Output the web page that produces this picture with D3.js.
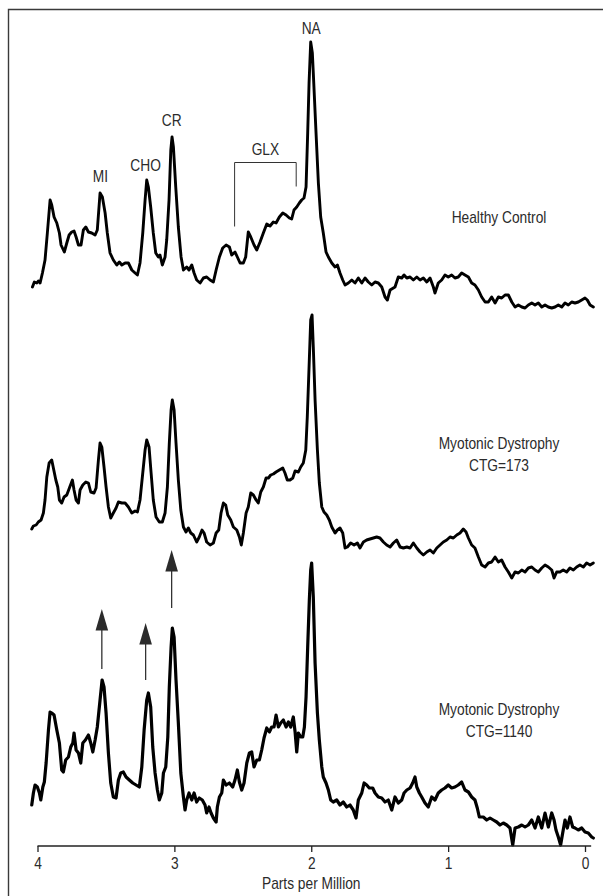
<!DOCTYPE html>
<html>
<head>
<meta charset="utf-8">
<script src="https://cdn.jsdelivr.net/npm/d3@7"></script>
<style>
  body { margin: 0; background: #fff; }
  svg { display: block; }
  text { font-family: "Liberation Sans", Arial, "Noto Sans", sans-serif; fill: #2b2b2b; }
</style>
</head>
<body>
<div id="chart"></div>
<script>
// chemical shift (ppm) and signal intensity (a.u.)
const healthyControl = [
  [4.037,33],[4.023,38],[4.005,37],[3.994,39],[3.981,37],[3.964,47],[3.945,60],[3.928,87],[3.908,120],[3.896,115],
  [3.879,103],[3.859,97],[3.840,87],[3.828,75],[3.804,68],[3.786,77],[3.769,85],[3.750,88],[3.733,89],[3.718,83],
  [3.701,75],[3.682,75],[3.665,90],[3.647,93],[3.628,88],[3.604,87],[3.579,85],[3.563,90],[3.543,127],[3.526,123],
  [3.506,107],[3.490,87],[3.470,67],[3.446,60],[3.421,55],[3.402,58],[3.384,55],[3.360,57],[3.336,57],[3.311,50],
  [3.287,47],[3.270,45],[3.251,57],[3.231,87],[3.214,120],[3.202,140],[3.190,133],[3.173,113],[3.154,87],[3.136,67],
  [3.117,63],[3.105,65],[3.088,55],[3.068,63],[3.056,80],[3.039,120],[3.026,170],[3.017,183],[3.007,173],[2.990,133],
  [2.971,93],[2.951,63],[2.934,50],[2.910,53],[2.893,50],[2.873,55],[2.856,47],[2.837,40],[2.812,37],[2.788,42],
  [2.764,43],[2.739,40],[2.715,38],[2.695,50],[2.671,63],[2.647,72],[2.622,75],[2.598,73],[2.581,65],[2.557,68],
  [2.540,63],[2.520,57],[2.496,57],[2.479,63],[2.460,88],[2.442,83],[2.418,75],[2.398,70],[2.374,78],[2.350,87],
  [2.325,96],[2.301,94],[2.277,98],[2.257,97],[2.233,103],[2.208,107],[2.184,105],[2.160,102],[2.143,101],[2.126,110],
  [2.106,113],[2.087,117],[2.070,120],[2.053,122],[2.038,133],[2.026,187],[2.016,237],[2.004,278],[1.992,267],[1.985,247],
  [1.965,187],[1.948,137],[1.931,103],[1.912,87],[1.892,68],[1.875,63],[1.850,57],[1.826,53],[1.809,55],[1.790,47],
  [1.770,40],[1.753,35],[1.729,37],[1.704,40],[1.680,37],[1.656,42],[1.631,37],[1.607,42],[1.583,38],[1.558,35],
  [1.534,38],[1.510,37],[1.485,33],[1.461,23],[1.444,20],[1.424,30],[1.388,33],[1.364,43],[1.339,42],[1.322,45],
  [1.302,42],[1.278,43],[1.254,40],[1.229,43],[1.205,40],[1.181,42],[1.156,38],[1.132,42],[1.108,33],[1.096,27],
  [1.072,37],[1.047,40],[1.023,45],[0.999,43],[0.974,45],[0.950,42],[0.926,43],[0.901,47],[0.877,45],[0.852,43],
  [0.828,37],[0.804,35],[0.779,30],[0.755,23],[0.730,18],[0.706,18],[0.682,23],[0.657,17],[0.633,23],[0.609,22],
  [0.584,25],[0.560,25],[0.535,18],[0.511,13],[0.487,15],[0.462,13],[0.438,12],[0.414,15],[0.389,17],[0.365,15],
  [0.341,17],[0.316,13],[0.292,15],[0.268,13],[0.243,12],[0.219,13],[0.195,15],[0.170,13],[0.146,17],[0.122,15],
  [0.097,18],[0.073,17],[0.049,18],[0.024,20],[0.000,22],[-0.017,20],[-0.037,15],[-0.061,13]
];

const dystrophy173 = [
  [4.042,61],[4.030,64],[4.010,65],[3.994,68],[3.974,70],[3.957,77],[3.945,90],[3.932,113],[3.915,127],[3.896,130],
  [3.884,122],[3.866,110],[3.852,103],[3.840,90],[3.823,87],[3.806,93],[3.786,95],[3.767,102],[3.745,110],[3.733,100],
  [3.718,90],[3.701,87],[3.689,100],[3.669,105],[3.647,108],[3.628,107],[3.611,98],[3.587,97],[3.572,102],[3.555,130],
  [3.543,147],[3.530,143],[3.514,123],[3.499,103],[3.482,83],[3.465,72],[3.446,77],[3.426,82],[3.409,88],[3.384,87],
  [3.360,87],[3.336,83],[3.311,77],[3.287,79],[3.270,78],[3.251,90],[3.231,117],[3.214,140],[3.202,150],[3.185,143],
  [3.170,117],[3.154,90],[3.134,73],[3.110,68],[3.088,68],[3.068,77],[3.051,103],[3.037,147],[3.024,180],[3.015,190],
  [3.002,180],[2.988,147],[2.971,110],[2.953,80],[2.934,63],[2.915,58],[2.898,62],[2.880,57],[2.861,55],[2.837,48],
  [2.818,53],[2.798,60],[2.783,57],[2.764,48],[2.739,45],[2.715,47],[2.695,57],[2.676,60],[2.659,77],[2.642,87],
  [2.625,85],[2.610,75],[2.588,70],[2.569,63],[2.544,60],[2.525,53],[2.511,45],[2.496,57],[2.476,77],[2.460,83],
  [2.442,97],[2.423,95],[2.403,90],[2.387,87],[2.369,98],[2.350,103],[2.330,112],[2.313,112],[2.296,115],[2.277,116],
  [2.257,118],[2.233,120],[2.208,122],[2.192,117],[2.175,110],[2.155,110],[2.135,112],[2.118,119],[2.094,118],[2.077,123],
  [2.058,127],[2.040,140],[2.029,173],[2.016,223],[2.004,270],[1.994,275],[1.985,243],[1.972,190],[1.955,140],[1.941,107],
  [1.923,83],[1.907,78],[1.887,75],[1.868,70],[1.850,63],[1.826,57],[1.809,60],[1.790,62],[1.770,57],[1.753,42],
  [1.736,43],[1.712,47],[1.687,45],[1.663,47],[1.644,42],[1.619,48],[1.595,50],[1.571,51],[1.546,52],[1.522,53],
  [1.498,52],[1.473,48],[1.449,45],[1.424,43],[1.400,47],[1.376,50],[1.351,43],[1.327,42],[1.302,43],[1.278,42],
  [1.254,47],[1.229,42],[1.205,38],[1.181,35],[1.156,38],[1.132,40],[1.108,37],[1.083,42],[1.059,45],[1.035,48],
  [1.010,50],[0.986,53],[0.962,52],[0.937,55],[0.913,57],[0.889,61],[0.869,58],[0.852,52],[0.828,45],[0.804,42],
  [0.779,33],[0.755,25],[0.730,23],[0.706,27],[0.682,28],[0.657,33],[0.633,28],[0.609,30],[0.584,23],[0.560,18],
  [0.535,12],[0.511,18],[0.487,17],[0.462,20],[0.438,18],[0.414,22],[0.389,23],[0.365,20],[0.341,18],[0.316,22],
  [0.292,25],[0.268,23],[0.243,20],[0.226,12],[0.207,18],[0.183,18],[0.159,20],[0.134,18],[0.110,22],[0.085,20],
  [0.061,23],[0.037,25],[0.012,23],[-0.012,27],[-0.037,25],[-0.061,27]
];

const dystrophy1140 = [
  [4.042,45],[4.030,57],[4.018,65],[4.001,63],[3.986,57],[3.976,50],[3.961,63],[3.950,68],[3.937,87],[3.920,120],
  [3.908,138],[3.896,137],[3.879,135],[3.859,120],[3.840,107],[3.823,80],[3.811,78],[3.794,90],[3.774,93],[3.757,103],
  [3.742,107],[3.733,117],[3.718,100],[3.701,97],[3.684,87],[3.669,107],[3.650,110],[3.628,115],[3.611,107],[3.596,98],
  [3.579,110],[3.563,123],[3.543,150],[3.528,170],[3.514,163],[3.499,137],[3.482,97],[3.465,67],[3.446,53],[3.426,52],
  [3.409,70],[3.392,77],[3.373,78],[3.353,73],[3.329,70],[3.304,67],[3.280,65],[3.256,63],[3.238,83],[3.221,120],
  [3.202,150],[3.190,157],[3.173,143],[3.158,103],[3.141,77],[3.124,60],[3.110,50],[3.092,57],[3.080,77],[3.063,83],
  [3.048,113],[3.037,163],[3.024,203],[3.015,222],[3.002,213],[2.988,170],[2.971,127],[2.953,77],[2.934,53],[2.922,40],
  [2.910,50],[2.893,57],[2.873,50],[2.856,57],[2.837,48],[2.818,52],[2.796,50],[2.776,45],[2.764,37],[2.747,43],
  [2.732,37],[2.715,32],[2.695,28],[2.686,43],[2.671,53],[2.654,57],[2.642,70],[2.622,65],[2.598,67],[2.574,63],
  [2.557,70],[2.540,80],[2.525,68],[2.508,60],[2.491,67],[2.471,87],[2.452,97],[2.435,98],[2.418,83],[2.398,90],
  [2.379,90],[2.362,100],[2.345,112],[2.325,122],[2.306,118],[2.289,123],[2.272,123],[2.257,135],[2.240,123],[2.223,127],
  [2.204,130],[2.184,123],[2.167,128],[2.150,123],[2.131,133],[2.118,118],[2.106,98],[2.094,117],[2.077,113],[2.062,113],
  [2.050,123],[2.038,153],[2.026,203],[2.014,250],[2.004,280],[1.997,287],[1.985,253],[1.972,187],[1.955,137],[1.941,110],
  [1.923,83],[1.912,73],[1.892,67],[1.875,60],[1.858,50],[1.839,48],[1.814,50],[1.790,45],[1.766,48],[1.741,43],
  [1.717,45],[1.693,40],[1.673,32],[1.656,50],[1.631,57],[1.614,67],[1.595,65],[1.576,62],[1.551,62],[1.534,57],
  [1.510,53],[1.485,52],[1.461,48],[1.437,50],[1.412,40],[1.388,53],[1.364,47],[1.339,50],[1.322,57],[1.302,60],
  [1.278,62],[1.259,67],[1.242,73],[1.229,63],[1.210,57],[1.193,53],[1.169,47],[1.145,43],[1.120,53],[1.096,50],
  [1.072,57],[1.047,60],[1.023,62],[0.999,65],[0.974,62],[0.950,63],[0.926,65],[0.901,68],[0.877,60],[0.852,58],
  [0.828,53],[0.804,50],[0.787,42],[0.772,33],[0.743,33],[0.718,30],[0.694,32],[0.670,30],[0.645,28],[0.621,25],
  [0.597,27],[0.572,25],[0.548,22],[0.528,5],[0.511,22],[0.487,23],[0.462,25],[0.438,23],[0.414,25],[0.389,30],
  [0.365,22],[0.341,33],[0.316,22],[0.292,37],[0.268,23],[0.243,37],[0.226,30],[0.212,20],[0.195,13],[0.178,5],
  [0.163,17],[0.146,30],[0.129,22],[0.110,33],[0.090,23],[0.073,22],[0.049,20],[0.024,22],[0.000,18],[-0.024,17],
  [-0.049,13],[-0.061,12]
];

const spectrumLabels = [["Healthy Control"], ["Myotonic Dystrophy", "CTG=173"], ["Myotonic Dystrophy", "CTG=1140"]];
const peakNames = ["MI", "CHO", "CR", "NA"];
const peakPpm = [3.54, 3.21, 3.02, 2.00];
const glxRange = [2.56, 2.11];
const arrowPpm = [3.53, 3.21, 3.02];
const xTicks = [4, 3, 2, 1, 0];
const xTitle = "Parts per Million";

const width = 603, height = 896;
const squeeze = 0.86; // condensed look of the original type

const svg = d3.select("#chart").append("svg")
  .attr("width", width)
  .attr("height", height);

function addText(x, y, str) {
  return svg.append("text")
    .attr("transform", `translate(${x},${y}) scale(${squeeze},1)`)
    .attr("text-anchor", "middle")
    .style("font-size", "16px")
    .text(str);
}

// frame (cropped: only top and left edges show)
svg.append("path")
  .attr("d", "M8.5,896V9.5H603")
  .attr("fill", "none")
  .attr("stroke", "#3a3a3a")
  .attr("stroke-width", 1.4);

const xScale = d3.scaleLinear().domain([4, 0]).range([37.5, 585]);
// shared intensity scale, spectra are stacked with offsets
const yScale = d3.scaleLinear().domain([0, 850]).range([850, 0]);
const offsets = [530, 260, 0];
const series = [healthyControl, dystrophy173, dystrophy1140];

const line = d3.line()
  .x(d => xScale(d[0]));

series.forEach((data, i) => {
  svg.append("path")
    .datum(data)
    .attr("fill", "none")
    .attr("stroke", "#000")
    .attr("stroke-width", i === 2 ? 3.2 : 2.9)
    .attr("stroke-linejoin", "round")
    .attr("stroke-linecap", "round")
    .attr("d", line.y(d => yScale(d[1] + offsets[i])));
});

// spectrum labels on the right
const labelY = [223, 449, 715];
spectrumLabels.forEach((lines, i) => {
  lines.forEach((t, j) => addText(499, labelY[i] + j * 21.5, t));
});

// peak names above the healthy control spectrum
const peakLabelY = [182, 171, 126, 34];
peakNames.forEach((name, i) => addText(xScale(peakPpm[i]), peakLabelY[i], name));

// GLX bracket
const gx0 = xScale(glxRange[0]), gx1 = xScale(glxRange[1]);
svg.append("path")
  .attr("d", `M${gx0},226.5V162.5H${gx1}V186.5`)
  .attr("fill", "none")
  .attr("stroke", "#333")
  .attr("stroke-width", 1);
addText((gx0 + gx1) / 2, 154.5, "GLX");

// arrows (tip and tail positions in the bottom spectrum's intensity units)
const arrowTip = [241, 227, 300];
const arrowTail = [181, 170, 242];
arrowPpm.forEach((p, i) => {
  const x = xScale(p);
  const tip = yScale(arrowTip[i]);
  svg.append("line")
    .attr("x1", x).attr("x2", x)
    .attr("y1", yScale(arrowTail[i]))
    .attr("y2", tip + 18)
    .attr("stroke", "#333")
    .attr("stroke-width", 1.3);
  svg.append("path")
    .attr("d", `M${x},${tip}L${x - 6.3},${tip + 21.5}L${x + 6.3},${tip + 21.5}Z`)
    .attr("fill", "#2b2b2b");
});

// x axis
const axisY = 846;
const axis = svg.append("g")
  .attr("transform", `translate(0,${axisY})`)
  .call(d3.axisBottom(xScale).tickValues(xTicks).tickSize(6).tickPadding(6).tickFormat(d3.format("d")));
axis.attr("font-family", null).attr("font-size", null);
axis.select(".domain").remove();
axis.selectAll(".tick line").attr("stroke", "#222").attr("stroke-width", 1.3);
axis.selectAll(".tick text")
  .attr("fill", null)
  .attr("transform", `scale(${squeeze},1)`)
  .style("font-size", "16px");
axis.append("line")
  .attr("x1", xScale(4)).attr("x2", xScale(-0.045))
  .attr("stroke", "#222")
  .attr("stroke-width", 1.3);

addText(xScale(2), 889, xTitle);
</script>
</body>
</html>
